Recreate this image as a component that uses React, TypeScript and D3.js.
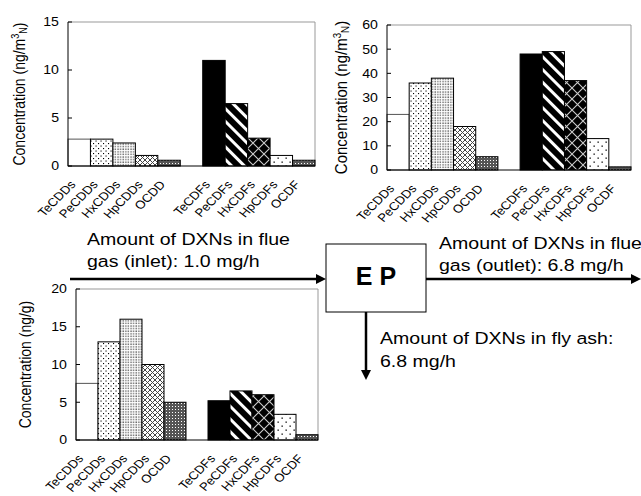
import React from 'react';
import * as d3 from 'd3';

// congener groups, left to right (a blank slot separates CDDs from CDFs)
const categories = ["TeCDDs", "PeCDDs", "HxCDDs", "HpCDDs", "OCDD", "TeCDFs", "PeCDFs", "HxCDFs", "HpCDFs", "OCDF"];
const slots = [...categories.slice(0, 5), "gap", ...categories.slice(5)];

// flue gas, inlet (ng/m3N)
const inletValues = [2.8, 2.8, 2.4, 1.1, 0.6, 11, 6.5, 2.9, 1.1, 0.6];
const inletTicks = [0, 5, 10, 15];

// flue gas, outlet (ng/m3N)
const outletValues = [23, 36, 38, 18, 5.5, 48, 49, 37, 13, 1.3];
const outletTicks = [0, 10, 20, 30, 40, 50, 60];

// fly ash (ng/g)
const flyAshValues = [7.5, 13, 16, 10, 5, 5.2, 6.5, 6, 3.4, 0.7];
const flyAshTicks = [0, 5, 10, 15, 20];

const fills = ["#fff", "url(#pDotSparse)", "url(#pDotDense)", "url(#pHatch)", "url(#pChecker)",
  "#000", "url(#pStripe)", "url(#pDiamond)", "url(#pDotWide)", "url(#pChecker)"];

const FONT = "'Liberation Sans', Arial, sans-serif";
const SX = 1.15; // the picture is a bit wider than tall

type PanelProps = {
  values: number[];
  ticks: number[];
  left: number; right: number; top: number; bottom: number;
  titleX: number; titleSize: number; unit: 'gas' | 'ash';
};

const Panel = ({ values, ticks, left, right, top, bottom, titleX, titleSize, unit }: PanelProps) => {
  const x = d3.scaleBand<string>().domain(slots).range([left, right]).padding(0);
  const y = d3.scaleLinear().domain([0, ticks[ticks.length - 1]]).range([bottom, top]);
  const midY = (top + bottom) / 2;
  return (
    <g>
      <line x1={left} x2={right} y1={top} y2={top} stroke="#999" />
      <line x1={right} x2={right} y1={top} y2={bottom} stroke="#999" />
      {categories.map((c, i) => (
        <rect key={c} x={x(c)} y={y(values[i])} width={x.bandwidth()} height={bottom - y(values[i])}
          fill={fills[i]} stroke={i === 0 ? "#555" : "#000"} strokeWidth={1} />
      ))}
      <line x1={left} x2={left} y1={top} y2={bottom} stroke="#000" />
      <line x1={left} x2={right} y1={bottom} y2={bottom} stroke="#000" />
      {ticks.map(t => (
        <g key={t}>
          <line x1={left} x2={left + 4} y1={y(t)} y2={y(t)} stroke="#000" />
          <text transform={`translate(${left - 9},${y(t) + 4.4}) scale(${SX},1)`} textAnchor="end"
            fontSize={12.3} fontFamily={FONT} fill="#000">{t}</text>
        </g>
      ))}
      {categories.map(c => (
        <text key={c}
          transform={`translate(${x(c)! + x.bandwidth() / 2 - 3},${bottom + 19}) scale(${SX},1) rotate(-49)`}
          textAnchor="end" fontSize={11.5} fontFamily={FONT} fill="#000">{c}</text>
      ))}
      <text transform={`translate(${titleX},${midY}) scale(${SX},1) rotate(-90)`} textAnchor="middle"
        fontSize={titleSize} fontFamily={FONT} fill="#000">
        {unit === 'gas'
          ? <>Concentration (ng/m<tspan fontSize={titleSize * 0.65} dy={-5}>3</tspan><tspan fontSize={titleSize * 0.65} dy={7}>N</tspan><tspan dy={-2}>)</tspan></>
          : "Concentration (ng/g)"}
      </text>
    </g>
  );
};

const Label = ({ x, y, children, size = 17 }: { x: number; y: number; children: React.ReactNode; size?: number }) => (
  <text transform={`translate(${x},${y}) scale(${SX},1)`} fontSize={size} fontFamily={FONT} fill="#000">{children}</text>
);

const Arrow = ({ x1, y1, x2, y2 }: { x1: number; y1: number; x2: number; y2: number }) => {
  const a = Math.atan2(y2 - y1, x2 - x1);
  const len = 10, half = 5;
  const bx = x2 - len * Math.cos(a), by = y2 - len * Math.sin(a);
  const px = -Math.sin(a) * half, py = Math.cos(a) * half;
  return (
    <g>
      <line x1={x1} y1={y1} x2={bx} y2={by} stroke="#000" strokeWidth={2.5} />
      <path d={`M${x2},${y2}L${bx + px},${by + py}L${bx - px},${by - py}Z`} fill="#000" />
    </g>
  );
};

export default function App() {
  return (
    <svg width={641} height={496} style={{ position: 'absolute', left: 0, top: 0, background: '#fff' }}>
      <defs>
        <pattern id="pDotSparse" width={5} height={5} patternUnits="userSpaceOnUse">
          <rect width={5} height={5} fill="#fff" />
          <rect x={0.5} y={0.5} width={1.1} height={1.1} fill="#000" />
          <rect x={3} y={3} width={1.1} height={1.1} fill="#000" />
        </pattern>
        <pattern id="pDotDense" width={2.6} height={2.6} patternUnits="userSpaceOnUse">
          <rect width={2.6} height={2.6} fill="#fff" />
          <rect x={0.4} y={0.4} width={1.2} height={1.2} fill="#333" />
        </pattern>
        <pattern id="pHatch" width={5} height={5} patternUnits="userSpaceOnUse">
          <rect width={5} height={5} fill="#fff" />
          <path d="M0,0L5,5M5,0L0,5" stroke="#444" strokeWidth={1} />
        </pattern>
        <pattern id="pChecker" width={3} height={3} patternUnits="userSpaceOnUse">
          <rect width={3} height={3} fill="#555" />
          <rect x={1} y={1} width={1} height={1} fill="#fff" />
        </pattern>
        <pattern id="pStripe" width={9} height={9} patternUnits="userSpaceOnUse" patternTransform="rotate(-45)">
          <rect width={9} height={9} fill="#000" />
          <rect x={0} width={3} height={9} fill="#fff" />
        </pattern>
        <pattern id="pDiamond" width={11} height={11} patternUnits="userSpaceOnUse">
          <rect width={11} height={11} fill="#000" />
          <path d="M0,0L11,11M11,0L0,11" stroke="#ccc" strokeWidth={1.1} />
        </pattern>
        <pattern id="pDotWide" width={8} height={8} patternUnits="userSpaceOnUse">
          <rect width={8} height={8} fill="#fff" />
          <rect x={1.5} y={1.5} width={1.3} height={1.3} fill="#000" />
          <rect x={5.5} y={5.5} width={1.3} height={1.3} fill="#000" />
        </pattern>
      </defs>

      <Panel values={inletValues} ticks={inletTicks} left={68} right={315} top={22} bottom={166}
        titleX={25} titleSize={14} unit="gas" />
      <Panel values={outletValues} ticks={outletTicks} left={387} right={631} top={25} bottom={170}
        titleX={347} titleSize={15} unit="gas" />
      <Panel values={flyAshValues} ticks={flyAshTicks} left={76} right={318} top={289} bottom={440}
        titleX={31} titleSize={14} unit="ash" />

      <Label x={87} y={245}>Amount of DXNs in flue</Label>
      <Label x={87} y={267}>gas (inlet): 1.0 mg/h</Label>
      <Arrow x1={70} y1={279} x2={326} y2={279} />

      <rect x={326} y={244} width={100} height={68} fill="#fff" stroke="#000" strokeWidth={1} />
      <text x={376} y={285} textAnchor="middle" fontSize={25} fontWeight="bold" fontFamily={FONT}>E P</text>

      <Arrow x1={426} y1={279} x2={641} y2={279} />
      <Label x={439} y={249}>Amount of DXNs in flue</Label>
      <Label x={439} y={271}>gas (outlet): 6.8 mg/h</Label>

      <Arrow x1={366} y1={312} x2={366} y2={380} />
      <Label x={380} y={344}>Amount of DXNs in fly ash:</Label>
      <Label x={380} y={367}>6.8 mg/h</Label>
    </svg>
  );
}
